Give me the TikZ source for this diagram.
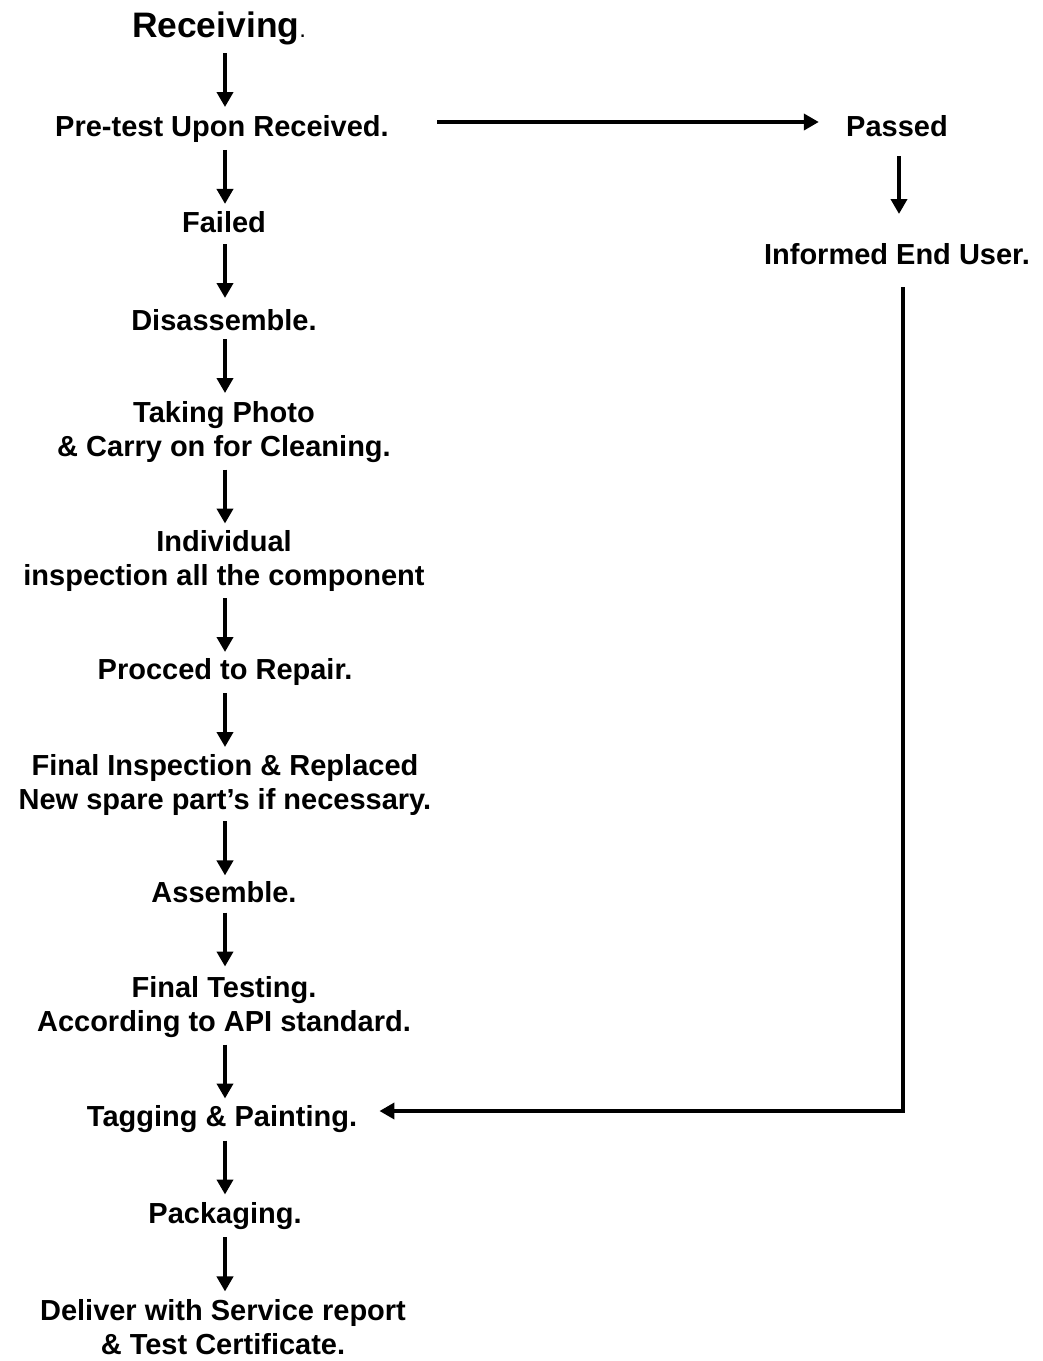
\documentclass[tikz,border=0pt]{standalone}
\usepackage{fontspec}
\setmainfont{Liberation Sans}
\usetikzlibrary{arrows.meta,calc}

\begin{document}
\begin{tikzpicture}[x=0.5pt,y=-0.5pt]
  \tikzstyle{stage}=[inner sep=4pt, align=center, font=\bfseries\fontsize{14.5}{17}\selectfont]
  \tikzstyle{flow}=[line width=2.2pt, -{Triangle[length=7.5pt,width=8pt]}]
  \useasboundingbox (0,0) rectangle (1043,1361);

  \node[stage, font=\bfseries\fontsize{17.7}{21}\selectfont] (recv) at (219,28) {Receiving{\mdseries\fontsize{12}{14}\selectfont.}};
  \node[stage] (pre) at (222,129) {Pre-test Upon Received.};
  \node[stage] (fail) at (224,222) {Failed};
  \node[stage] (dis) at (224,320) {Disassemble.};
  \node[stage] (photo) at (224,432) {Taking Photo\\\& Carry on for Cleaning.};
  \node[stage] (insp) at (224,561) {Individual\\inspection all the component};
  \node[stage] (rep) at (225,672) {Procced to Repair.};
  \node[stage] (final) at (225,785) {Final Inspection \& Replaced\\New spare part’s if necessary.};
  \node[stage] (asm) at (224,892) {Assemble.};
  \node[stage] (test) at (224,1007) {Final Testing.\\According to API standard.};
  \node[stage] (tag) at (222,1119) {Tagging \& Painting.};
  \node[stage] (pack) at (225,1216) {Packaging.};
  \node[stage] (dlv) at (223,1327) {Deliver with Service report\\\& Test Certificate.};

  \node[stage] (pass) at (897,126) {Passed};
  \node[stage] (inf) at (897,254) {Informed End User.};
  \coordinate (turn) at (903,1111);

  % main line down the left side, arrows centred in the gaps
  \foreach \a/\b in {recv/pre, pre/fail, fail/dis, dis/photo, photo/insp, insp/rep,
                     rep/final, final/asm, asm/test, test/tag, tag/pack, pack/dlv}
    \draw[flow] let \p1=($(\a.south)!.5!(\b.north)$) in
      (112.5pt,\y1+13.5pt) -- (112.5pt,\y1-13.5pt);

  % passed branch
  \draw[flow] ($(pre.east)+(40,-7)$) -- ($(pass.west)+(-19,-4)$);
  \draw[flow] let \p1=($(pass.south)!.5!(inf.north)$) in
    (449.5pt,\y1+17pt) -- (449.5pt,\y1-12pt);
  \draw[flow, shorten <=7pt] (inf.south -| turn) -- (turn) -- ($(tag.east |- turn)+(14,0)$);
\end{tikzpicture}
\end{document}
